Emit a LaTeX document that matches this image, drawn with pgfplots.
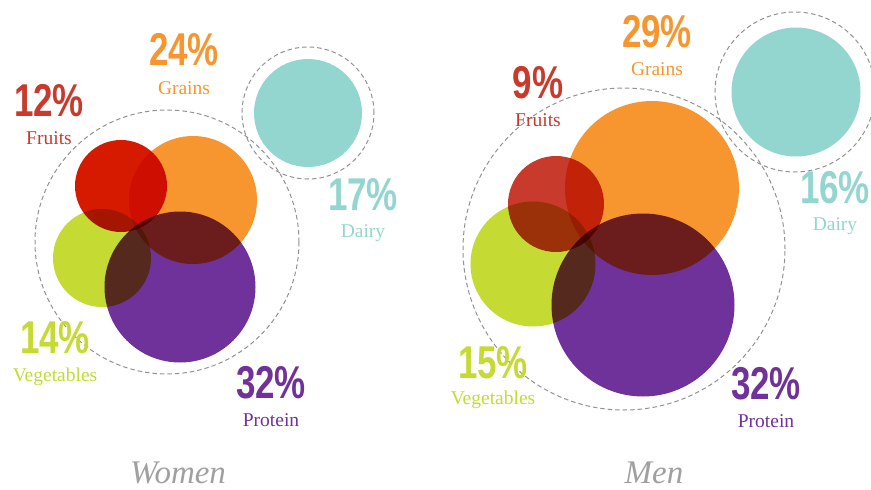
\documentclass[border=0pt]{standalone}
\usepackage{fontspec}
\usepackage{pgfplots}
\pgfplotsset{compat=1.18}
\newfontfamily\pct[FakeStretch=0.76]{Liberation Sans}
\newfontfamily\lab{Liberation Serif}
\definecolor{cRedW}{HTML}{D51A00}
\definecolor{cRed}{HTML}{C83A2C}
\definecolor{cOrange}{HTML}{F7962F}
\definecolor{cGreen}{HTML}{C5DA32}
\definecolor{cPurple}{HTML}{6F319A}
\definecolor{cTeal}{HTML}{93D6D0}
\definecolor{cDash}{HTML}{929292}
\definecolor{cTitle}{HTML}{A0A0A0}
\begin{document}
\begin{tikzpicture}
\begin{axis}[name=ax,
  width=871pt, height=490pt, scale only axis,
  xmin=0, xmax=871, ymin=0, ymax=490, y dir=reverse,
  hide axis, clip marker paths=true,
  every axis plot/.append style={only marks, mark=*},
]
% dashed guide circles
\pgfplotsset{dashc/.style={mark=o, draw=cDash, mark options={draw=cDash, fill=none, line width=1pt, dash pattern=on 4.5pt off 3pt}}}
\addplot[dashc, mark size=132] coordinates {(167,242)};
\addplot[dashc, mark size=66] coordinates {(308,113)};
\addplot[dashc, mark size=161] coordinates {(624,249)};
\addplot[dashc, mark size=80] coordinates {(795,92)};
% circles (multiply blending gives the dark overlaps)
\pgfplotsset{fillc/.style={fill=#1, mark options={fill=#1, draw opacity=0}, blend mode=multiply}}
% Women
\addplot[fillc=cRedW, mark size=46] coordinates {(121,186)};
\addplot[fillc=cOrange, mark size=64] coordinates {(193,200)};
\addplot[fillc=cGreen, mark size=49] coordinates {(102,258)};
\addplot[fillc=cPurple, mark size=75.5] coordinates {(180,287)};
\addplot[fillc=cTeal, mark size=54] coordinates {(308,113)};
% Men
\addplot[fillc=cRed, mark size=48] coordinates {(556,204)};
\addplot[fillc=cOrange, mark size=87] coordinates {(652,188)};
\addplot[fillc=cGreen, mark size=62.5] coordinates {(533,264)};
\addplot[fillc=cPurple, mark size=91.5] coordinates {(643,305)};
\addplot[fillc=cTeal, mark size=64.5] coordinates {(796,92)};
% labels
\tikzset{P/.style={inner sep=0pt, font=\pct\bfseries\fontsize{46}{46}\selectfont},
         L/.style={inner sep=0pt, font=\lab\fontsize{19.5}{20}\selectfont}}
\node[P, text=cOrange] at (axis cs:184,50) {24\%};
\node[L, text=cOrange] at (axis cs:184,88) {Grains};
\node[P, text=cRed] at (axis cs:49,101) {12\%};
\node[L, text=cRed] at (axis cs:49,138) {Fruits};
\node[P, text=cTeal] at (axis cs:363,195) {17\%};
\node[L, text=cTeal] at (axis cs:363,233) {Dairy};
\node[P, text=cGreen] at (axis cs:55,338) {14\%};
\node[L, text=cGreen] at (axis cs:55,377) {Vegetables};
\node[P, text=cPurple] at (axis cs:271,383) {32\%};
\node[L, text=cPurple] at (axis cs:271,420) {Protein};
\node[P, text=cOrange] at (axis cs:657,32) {29\%};
\node[L, text=cOrange] at (axis cs:657,69) {Grains};
\node[P, text=cRed] at (axis cs:538,83) {9\%};
\node[L, text=cRed] at (axis cs:538,120) {Fruits};
\node[P, text=cTeal] at (axis cs:835,188) {16\%};
\node[L, text=cTeal] at (axis cs:835,226) {Dairy};
\node[P, text=cGreen] at (axis cs:493,363) {15\%};
\node[L, text=cGreen] at (axis cs:493,400) {Vegetables};
\node[P, text=cPurple] at (axis cs:766,384) {32\%};
\node[L, text=cPurple] at (axis cs:766,421) {Protein};
\node[inner sep=0pt, anchor=base, text=cTitle, font=\lab\itshape\fontsize{33}{34}\selectfont] at (axis cs:178,483) {Women};
\node[inner sep=0pt, anchor=base, text=cTitle, font=\lab\itshape\fontsize{33}{34}\selectfont] at (axis cs:654,483) {Men};
\end{axis}
\pgfresetboundingbox
\useasboundingbox (ax.south west) rectangle (ax.north east);
\end{tikzpicture}
\end{document}
